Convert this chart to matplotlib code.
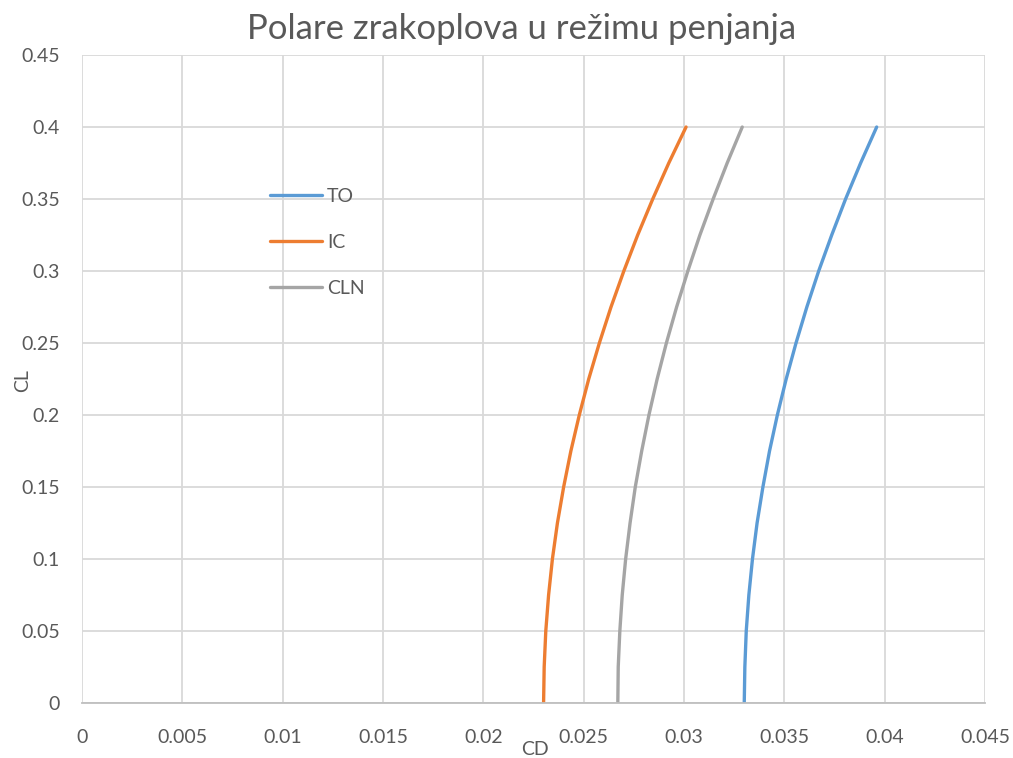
"""
Polare zrakoplova u režimu penjanja (CL - CD).
"""
import matplotlib
matplotlib.use('Agg')
import matplotlib.pyplot as plt

# Vrijednosti ocitane sa slike
cl = [0, 0.025, 0.05, 0.075, 0.1, 0.125, 0.15, 0.175, 0.2, 0.225,
      0.25, 0.275, 0.3, 0.325, 0.35, 0.375, 0.4]
cd_to = [0.03300, 0.03303, 0.03310, 0.03323, 0.03341, 0.03364, 0.03393,
         0.03426, 0.03465, 0.03509, 0.03558, 0.03612, 0.03671, 0.03736,
         0.03805, 0.03880, 0.03960]
cd_ic = [0.02300, 0.02303, 0.02311, 0.02325, 0.02344, 0.02369, 0.02400,
         0.02436, 0.02478, 0.02525, 0.02578, 0.02636, 0.02700, 0.02769,
         0.02844, 0.02924, 0.03010]
cd_cln = [0.02670, 0.02672, 0.02680, 0.02692, 0.02709, 0.02731, 0.02757,
          0.02789, 0.02825, 0.02866, 0.02912, 0.02963, 0.03019, 0.03079,
          0.03145, 0.03215, 0.03290]

x_ticks = [0, 0.005, 0.01, 0.015, 0.02, 0.025, 0.03, 0.035, 0.04, 0.045]
x_labels = ['0', '0.005', '0.01', '0.015', '0.02', '0.025', '0.03',
            '0.035', '0.04', '0.045']
y_ticks = [0, 0.05, 0.1, 0.15, 0.2, 0.25, 0.3, 0.35, 0.4, 0.45]
y_labels = ['0', '0.05', '0.1', '0.15', '0.2', '0.25', '0.3', '0.35',
            '0.4', '0.45']

plt.rcParams['font.family'] = ['Lato', 'DejaVu Sans']
tekst = '#595959'

fig = plt.figure(figsize=(10.13, 7.58), dpi=100)
ax = fig.add_axes([0.081, 0.0726, 0.8914, 0.8548])

ax.plot(cd_to, cl, color='#5B9BD5', lw=2.4, label='TO', solid_capstyle='round')
ax.plot(cd_ic, cl, color='#ED7D31', lw=2.4, label='IC', solid_capstyle='round')
ax.plot(cd_cln, cl, color='#A5A5A5', lw=2.4, label='CLN', solid_capstyle='round')

ax.set_xlim(0, 0.045)
ax.set_ylim(0, 0.45)
ax.set_xticks(x_ticks)
ax.set_xticklabels(x_labels)
ax.set_yticks(y_ticks)
ax.set_yticklabels(y_labels)
ax.tick_params(length=0, labelsize=14, labelcolor=tekst)
ax.tick_params(axis='x', pad=19)
ax.tick_params(axis='y', pad=16)

ax.grid(True, color='#d9d9d9', lw=1.3)
ax.set_axisbelow(True)
for s in ['top', 'right', 'left']:
    ax.spines[s].set_visible(False)
ax.spines['bottom'].set_color('#bfbfbf')
ax.spines['bottom'].set_linewidth(1.3)

fig.text(0.515, 0.962, 'Polare zrakoplova u režimu penjanja',
         ha='center', va='center', fontsize=25, color=tekst)
fig.text(0.528, 0.011, 'CD', ha='center', va='center', fontsize=14, color=tekst)
fig.text(0.022, 0.498, 'CL', ha='center', va='center', fontsize=14,
         color=tekst, rotation=90)

leg = ax.legend(loc='upper left', bbox_to_anchor=(0.199, 0.807), frameon=False,
                fontsize=14, handlelength=2.7, labelspacing=1.5,
                handletextpad=0.25, borderaxespad=0)
for t in leg.get_texts():
    t.set_color(tekst)

plt.savefig('out.png', dpi=100)
plt.close()
